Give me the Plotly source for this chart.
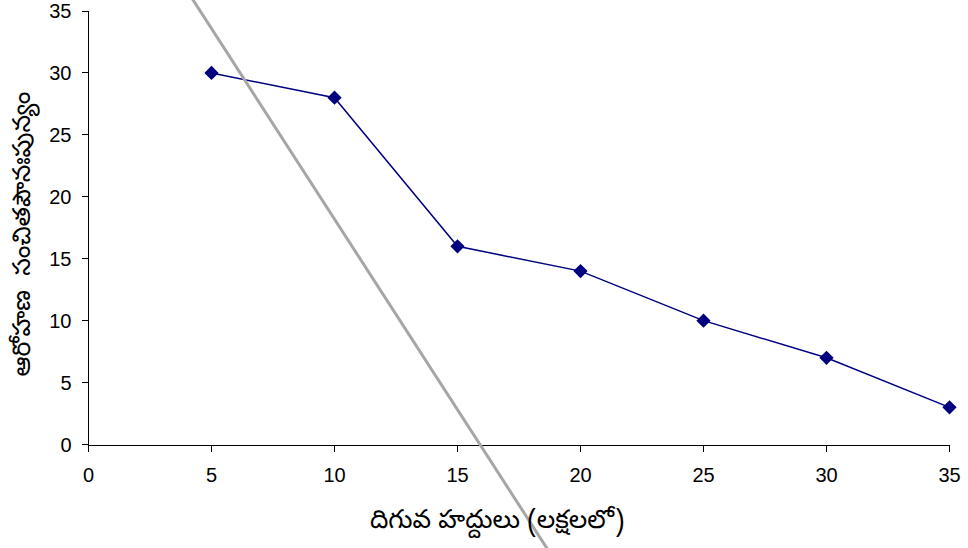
import plotly.graph_objects as go

# Data
lower_limits = [5, 10, 15, 20, 25, 30, 35]
cum_freq = [30, 28, 16, 14, 10, 7, 3]
gray_x = [3.5, 19.0]
gray_y = [38.2, -9.5]

x_title = "దిగువ హద్దులు (లక్షలలో)"
y_title = "ఆరోహణ  సంచితపౌనఃపున్యం"
tick_vals = [0, 5, 10, 15, 20, 25, 30, 35]

W, H = 968, 548
xr = [0, 35]
yr = [0, 35]
# main plot area in pixels
px0, px1 = 88.5, 949.5
py_top, py_bot = 11.0, 444.5
xd = [px0 / W, px1 / W]
yd = [(H - py_bot) / H, (H - py_top) / H]


def full_range(r, d):
    span = (r[1] - r[0]) / (d[1] - d[0])
    return [r[0] - d[0] * span, r[1] + (1 - d[1]) * span]


fig = go.Figure()
fig.add_trace(go.Scatter(
    x=lower_limits, y=cum_freq, mode="lines+markers",
    line=dict(color="#000080", width=1.5),
    marker=dict(symbol="diamond", size=11, color="#000080"),
    xaxis="x", yaxis="y", showlegend=False, cliponaxis=False,
))
fig.add_trace(go.Scatter(
    x=gray_x, y=gray_y, mode="lines",
    line=dict(color="#a6a6a6", width=3),
    xaxis="x2", yaxis="y2", showlegend=False, hoverinfo="skip",
))

tickfont = dict(family="Liberation Sans, Arial", size=20, color="black")
telugu = "Noto Sans Telugu, Gautami, Noto Sans, sans-serif"

fig.update_layout(
    width=W, height=H,
    margin=dict(l=0, r=0, t=0, b=0, autoexpand=False),
    paper_bgcolor="white", plot_bgcolor="rgba(0,0,0,0)",
    xaxis=dict(domain=xd, range=xr, tickvals=tick_vals, showgrid=False, zeroline=False,
               showline=True, linecolor="black", linewidth=1, ticks="outside",
               ticklen=6, tickcolor="black", tickfont=tickfont, automargin=False,
               ticklabelstandoff=6),
    yaxis=dict(domain=yd, range=yr, tickvals=tick_vals, showgrid=False, zeroline=False,
               showline=True, linecolor="black", linewidth=1, ticks="outside",
               ticklen=6, tickcolor="black", tickfont=tickfont, automargin=False,
               ticklabelstandoff=6),
    xaxis2=dict(domain=[0, 1], range=full_range(xr, xd), visible=False,
                anchor="y2", automargin=False),
    yaxis2=dict(domain=[0, 1], range=full_range(yr, yd), visible=False,
                anchor="x2", automargin=False),
    annotations=[
        dict(text=x_title, xref="paper", yref="paper", x=497 / W, y=(H - 523) / H,
             xanchor="center", yanchor="middle", showarrow=False,
             font=dict(family=telugu, size=26, color="black")),
        dict(text=y_title, xref="paper", yref="paper", x=24 / W, y=(H - 234.5) / H,
             xanchor="center", yanchor="middle", showarrow=False, textangle=-90,
             font=dict(family=telugu, size=25, color="black")),
    ],
)

fig.write_html("out.html", config={"displayModeBar": False},
               post_script="document.body.style.margin='0';")
